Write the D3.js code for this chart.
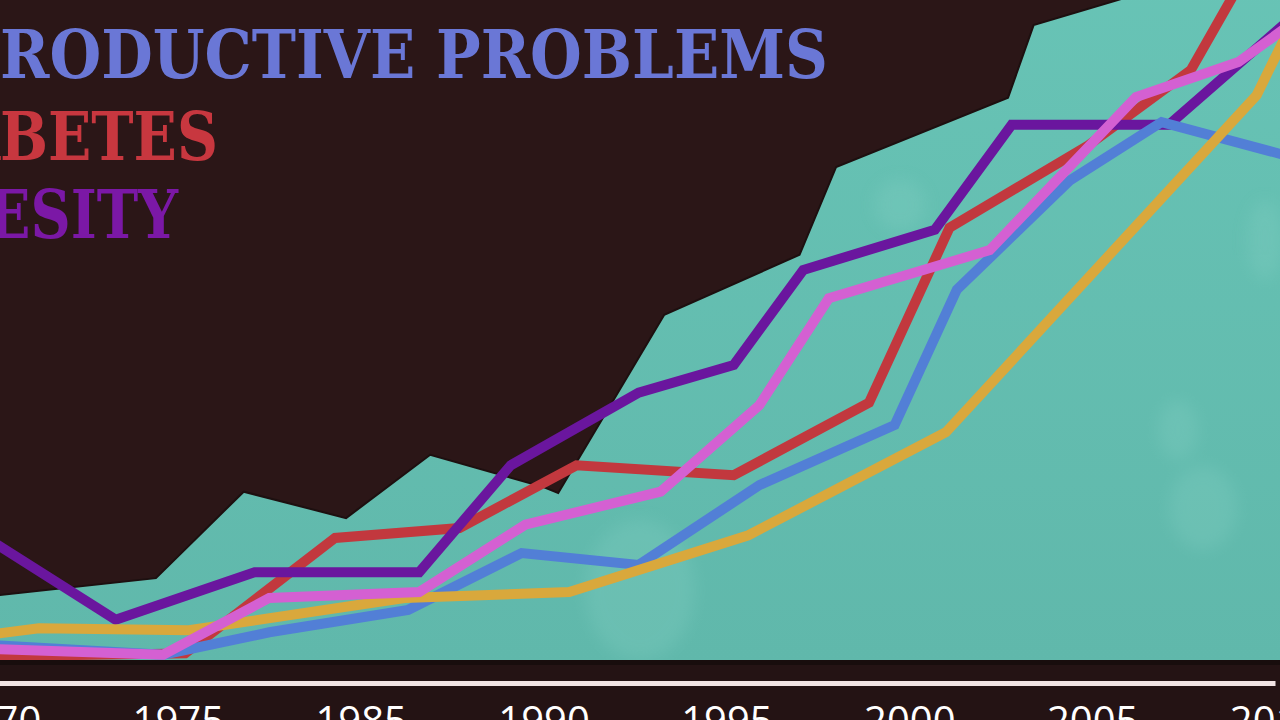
<!DOCTYPE html>
<html><head><meta charset="utf-8">
<script src="https://cdn.jsdelivr.net/npm/d3@7"></script>
<style>html,body{margin:0;padding:0;background:#2b1617;overflow:hidden}</style>
</head><body>
<script>
// ---- data ----
const tickYears = [1970, 1975, 1980, 1985, 1990, 1995, 2000, 2005];
const tickLabels = ["1970", "1975", "1985", "1990", "1995", "2000", "2005", "2010"];

const areaYears  = [1969.2, 1974.4, 1976.8, 1979.6, 1981.9, 1985.0, 1985.4, 1988.3, 1992.0, 1993.0, 1997.7, 1998.4, 2000.7, 2005.6];
const areaValues = [9.3, 12.4, 25.5, 21.5, 31.1, 26.2, 25.3, 52.3, 61.4, 74.7, 85.2, 96.2, 100, 108];

const purpleYears  = [1969.2, 1973.3, 1977.1, 1981.6, 1984.1, 1987.6, 1990.2, 1992.1, 1995.7, 1997.8, 2002.1, 2005.6];
const purpleValues = [20.5, 6.1, 13.3, 13.3, 29.5, 40.5, 44.7, 59.1, 65.2, 81.1, 81.1, 98];

const redYears  = [1969.2, 1975.2, 1979.3, 1982.7, 1985.9, 1990.2, 1993.9, 1996.1, 1999.9, 2002.7, 2004.2];
const redValues = [0.5, 1.0, 18.5, 20.0, 29.5, 28.0, 39.0, 65.5, 78.0, 89.4, 104];

const pinkYears  = [1969.2, 1974.6, 1977.5, 1981.6, 1984.5, 1988.2, 1990.9, 1992.8, 1997.2, 2001.2, 2004.0, 2005.6];
const pinkValues = [1.8, 0.8, 9.4, 10.3, 20.5, 25.5, 38.6, 54.8, 62.1, 85.3, 90.6, 97];

const blueYears  = [1969.2, 1974.6, 1977.5, 1981.3, 1984.4, 1987.6, 1990.9, 1994.6, 1996.3, 1999.4, 2001.9, 2005.6];
const blueValues = [2.5, 0.8, 4.2, 7.6, 16.2, 14.4, 26.5, 35.6, 56.1, 72.7, 81.5, 76.0];

const yellowYears  = [1969.2, 1971.2, 1975.3, 1981.2, 1985.7, 1990.6, 1996.0, 2004.5, 2005.6];
const yellowValues = [3.4, 4.8, 4.5, 9.4, 10.3, 18.9, 34.5, 85.6, 98];

const legendLabels = ["REPRODUCTIVE PROBLEMS", "DIABETES", "OBESITY"];
const legendColors = ["#6a77d6", "#c8373f", "#7b18a6"];

// ---- drawing ----
const W = 1280, H = 720;
const svg = d3.select("body").append("svg").attr("width", W).attr("height", H)
  .style("display", "block");

svg.append("rect").attr("width", W).attr("height", H).attr("fill", "#2b1617");

const x = d3.scaleLinear().domain([1970, 2005]).range([-5, 1275]);
const y = d3.scaleLinear().domain([0, 100]).range([660, 0]);

const defs = svg.append("defs");
defs.append("filter").attr("id", "blur").append("feGaussianBlur").attr("stdDeviation", 8);
const grad = defs.append("linearGradient").attr("id", "teal").attr("x1", 0).attr("x2", 0).attr("y1", 0).attr("y2", 1);
grad.append("stop").attr("offset", "0%").attr("stop-color", "#68c4b6");
grad.append("stop").attr("offset", "100%").attr("stop-color", "#60b8ab");

const plot = svg.append("g");

const areaData = areaYears.map((d, i) => ({ x: d, v: areaValues[i] }));
const area = d3.area().x(d => x(d.x)).y0(y(0)).y1(d => y(d.v));
plot.append("path").datum(areaData).attr("d", area).attr("fill", "url(#teal)");

// soft light blobs inside the teal area
const areaClip = defs.append("clipPath").attr("id", "areaclip");
areaClip.append("path").datum(areaData).attr("d", area);
const blobs = plot.append("g").attr("clip-path", "url(#areaclip)")
  .append("g").attr("filter", "url(#blur)").attr("fill", "#8fd6ca").attr("opacity", 0.22);
[[1178, 430, 20, 30], [1203, 508, 34, 42], [900, 205, 26, 26], [640, 590, 55, 70], [1265, 240, 18, 40]].forEach(b =>
  blobs.append("ellipse").attr("cx", b[0]).attr("cy", b[1]).attr("rx", b[2]).attr("ry", b[3]));

plot.append("path").datum(areaData)
  .attr("d", d3.line().x(d => x(d.x)).y(d => y(d.v)))
  .attr("fill", "none").attr("stroke", "#1d1010").attr("stroke-width", 2);

const line = d3.line().x(d => x(d.x)).y(d => y(d.v));
const series = [
  { years: redYears, values: redValues, color: "#c2383e" },
  { years: purpleYears, values: purpleValues, color: "#6a169e" },
  { years: blueYears, values: blueValues, color: "#527fd6" },
  { years: yellowYears, values: yellowValues, color: "#d9a83c" },
  { years: pinkYears, values: pinkValues, color: "#d460d2" }
];
plot.append("g").selectAll("path.series").data(series).join("path")
  .attr("class", "series")
  .attr("d", s => line(s.years.map((d, i) => ({ x: d, v: s.values[i] }))))
  .attr("fill", "none").attr("stroke", s => s.color).attr("stroke-width", 10)
  .attr("stroke-linejoin", "miter").attr("stroke-linecap", "butt");

// bottom strip
svg.append("rect").attr("x", 0).attr("y", y(0)).attr("width", W).attr("height", H - y(0)).attr("fill", "#241314");
svg.append("rect").attr("x", 0).attr("y", y(0)).attr("width", W).attr("height", 5).attr("fill", "#180d0d");

// axis
const axis = d3.axisBottom(x).tickValues(tickYears).tickFormat((d, i) => tickLabels[i]).tickSize(0).tickPadding(0);
const ax = svg.append("g").attr("transform", `translate(0,${y(0) + 23})`).call(axis);
ax.select(".domain").attr("stroke", "#f2e4e4").attr("stroke-width", 5);
ax.selectAll("text").attr("fill", "#ffffff").attr("font-family", "'Open Sans', sans-serif")
  .attr("font-size", 40).attr("dy", "1.3em");

// legend (condensed slab-like serif, only the right part visible as in the frame)
const legVisibleStart = [3, 3, 2];      // index of first (partly) visible letter
const legVisibleLeft = [0, 0, -12];     // where that letter starts
const legVisibleRight = [828, 218, 178];
const legBase = [78, 160, 238];
legendLabels.forEach((t, i) => {
  const g = svg.append("g");
  const txt = g.append("text").text(t)
    .attr("font-family", "'DejaVu Serif', serif").attr("font-weight", "bold")
    .attr("font-size", 68).attr("fill", legendColors[i]);
  const node = txt.node();
  const off = node.getSubStringLength(0, legVisibleStart[i]);
  const full = node.getComputedTextLength();
  const vis = full - off;
  const sx = (legVisibleRight[i] - legVisibleLeft[i]) / vis;
  txt.attr("x", -off);
  g.attr("transform", `translate(${legVisibleLeft[i]},${legBase[i]}) scale(${sx},1)`);
});
</script>
</body></html>
